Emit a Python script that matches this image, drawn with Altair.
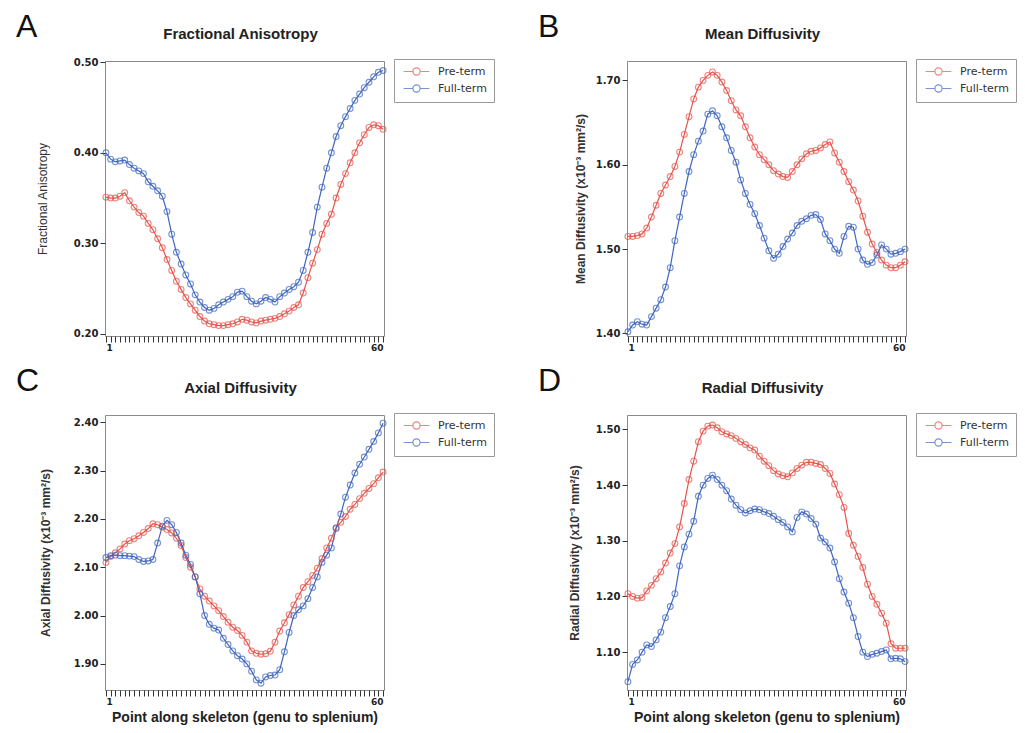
import altair as alt
import pandas as pd

# ---------------- data ----------------
points = list(range(1, 61))
groups = ["Pre-term", "Full-term"]

fa_pre = [0.351, 0.350, 0.350, 0.352, 0.356, 0.347, 0.340, 0.334, 0.330, 0.322,
          0.315, 0.305, 0.295, 0.282, 0.270, 0.258, 0.249, 0.240, 0.233, 0.226,
          0.219, 0.214, 0.211, 0.210, 0.209, 0.209, 0.210, 0.211, 0.213, 0.216,
          0.215, 0.213, 0.212, 0.214, 0.215, 0.216, 0.217, 0.219, 0.222, 0.225,
          0.229, 0.232, 0.245, 0.262, 0.278, 0.293, 0.310, 0.322, 0.332, 0.350,
          0.365, 0.377, 0.389, 0.400, 0.411, 0.420, 0.428, 0.431, 0.430, 0.426]
fa_full = [0.400, 0.393, 0.390, 0.391, 0.392, 0.387, 0.383, 0.380, 0.377, 0.368,
           0.363, 0.358, 0.352, 0.335, 0.310, 0.290, 0.277, 0.265, 0.255, 0.243,
           0.235, 0.229, 0.226, 0.228, 0.232, 0.235, 0.238, 0.241, 0.246, 0.247,
           0.241, 0.236, 0.233, 0.236, 0.240, 0.238, 0.235, 0.241, 0.245, 0.249,
           0.252, 0.257, 0.270, 0.290, 0.312, 0.340, 0.362, 0.383, 0.400, 0.418,
           0.430, 0.440, 0.449, 0.458, 0.465, 0.472, 0.478, 0.484, 0.489, 0.491]

md_pre = [1.515, 1.515, 1.516, 1.518, 1.525, 1.538, 1.552, 1.566, 1.576, 1.586,
          1.598, 1.615, 1.636, 1.657, 1.678, 1.692, 1.700, 1.706, 1.710, 1.706,
          1.698, 1.688, 1.676, 1.665, 1.658, 1.645, 1.632, 1.621, 1.612, 1.606,
          1.600, 1.593, 1.589, 1.586, 1.585, 1.592, 1.600, 1.607, 1.613, 1.616,
          1.617, 1.620, 1.624, 1.627, 1.614, 1.603, 1.592, 1.580, 1.570, 1.557,
          1.539, 1.520, 1.506, 1.496, 1.487, 1.481, 1.478, 1.478, 1.481, 1.485]
md_full = [1.402, 1.410, 1.414, 1.411, 1.410, 1.420, 1.430, 1.440, 1.455, 1.478,
           1.510, 1.538, 1.566, 1.592, 1.612, 1.628, 1.640, 1.660, 1.664, 1.658,
           1.645, 1.632, 1.617, 1.603, 1.582, 1.566, 1.553, 1.542, 1.528, 1.513,
           1.498, 1.489, 1.494, 1.503, 1.512, 1.519, 1.528, 1.533, 1.536, 1.540,
           1.541, 1.535, 1.518, 1.510, 1.500, 1.495, 1.515, 1.527, 1.526, 1.500,
           1.487, 1.482, 1.484, 1.493, 1.505, 1.500, 1.494, 1.495, 1.497, 1.500]

ad_pre = [2.110, 2.122, 2.130, 2.138, 2.148, 2.155, 2.159, 2.165, 2.172, 2.180,
          2.190, 2.188, 2.183, 2.178, 2.171, 2.160, 2.145, 2.120, 2.100, 2.080,
          2.055, 2.040, 2.030, 2.020, 2.010, 1.998, 1.986, 1.976, 1.969, 1.959,
          1.945, 1.927, 1.922, 1.920, 1.921, 1.926, 1.945, 1.968, 1.985, 2.002,
          2.022, 2.040, 2.058, 2.070, 2.083, 2.098, 2.118, 2.140, 2.160, 2.182,
          2.193, 2.205, 2.220, 2.230, 2.242, 2.253, 2.263, 2.273, 2.285, 2.297]
ad_full = [2.120, 2.124, 2.125, 2.124, 2.124, 2.123, 2.122, 2.116, 2.112, 2.113,
           2.116, 2.150, 2.185, 2.197, 2.188, 2.172, 2.150, 2.125, 2.106, 2.080,
           2.045, 2.000, 1.982, 1.974, 1.970, 1.953, 1.940, 1.927, 1.917, 1.910,
           1.900, 1.885, 1.867, 1.860, 1.873, 1.876, 1.877, 1.888, 1.925, 1.965,
           2.000, 2.012, 2.020, 2.035, 2.058, 2.080, 2.110, 2.125, 2.140, 2.180,
           2.210, 2.245, 2.270, 2.295, 2.313, 2.328, 2.344, 2.360, 2.378, 2.398]

rd_pre = [1.205, 1.200, 1.197, 1.198, 1.210, 1.220, 1.232, 1.244, 1.260, 1.278,
          1.295, 1.325, 1.367, 1.410, 1.443, 1.478, 1.497, 1.506, 1.508, 1.503,
          1.496, 1.492, 1.489, 1.484, 1.478, 1.473, 1.467, 1.463, 1.452, 1.443,
          1.435, 1.426, 1.420, 1.417, 1.415, 1.422, 1.430, 1.436, 1.441, 1.441,
          1.439, 1.437, 1.430, 1.421, 1.402, 1.383, 1.360, 1.313, 1.292, 1.272,
          1.252, 1.222, 1.200, 1.186, 1.170, 1.152, 1.115, 1.107, 1.107, 1.107]
rd_full = [1.047, 1.078, 1.086, 1.100, 1.113, 1.110, 1.122, 1.136, 1.162, 1.182,
           1.205, 1.255, 1.289, 1.312, 1.335, 1.380, 1.400, 1.412, 1.418, 1.410,
           1.400, 1.390, 1.375, 1.364, 1.356, 1.350, 1.354, 1.357, 1.356, 1.352,
           1.349, 1.344, 1.338, 1.333, 1.325, 1.316, 1.342, 1.352, 1.348, 1.340,
           1.330, 1.305, 1.298, 1.287, 1.262, 1.232, 1.208, 1.188, 1.162, 1.128,
           1.100, 1.092, 1.096, 1.098, 1.101, 1.104, 1.088, 1.089, 1.088, 1.083]

panel_titles = ["Fractional Anisotropy", "Mean Diffusivity",
                "Axial Diffusivity", "Radial Diffusivity"]
panel_letters = ["A", "B", "C", "D"]
y_titles = ["Fractional Anisotropy",
            "Mean Diffusivity (x10\u207b\u00b3 mm\u00b2/s)",
            "Axial Diffusivity (x10\u207b\u00b3 mm\u00b2/s)",
            "Radial Diffusivity (x10\u207b\u00b3 mm\u00b2/s)"]
y_ticks = [[0.20, 0.30, 0.40, 0.50],
           [1.40, 1.50, 1.60, 1.70],
           [1.90, 2.00, 2.10, 2.20, 2.30, 2.40],
           [1.10, 1.20, 1.30, 1.40, 1.50]]
y_domains = [[0.1975, 0.5015], [1.397, 1.723], [1.846, 2.415], [1.032, 1.526]]
x_title = "Point along skeleton (genu to splenium)"

# ---------------- style ----------------
RED = "#E5534B"
BLUE = "#3F66BE"
W, H = 279, 275
LEGEND_SYMBOL = ("M-4.3,0H-1.2M1.2,0H4.3"
                 "M1.2,0A1.2,1.2,0,1,1,-1.2,0A1.2,1.2,0,1,1,1.2,0")


def panel(i, pre, full):
    df = pd.DataFrame({
        "point": points * 2,
        "value": pre + full,
        "group": [groups[0]] * len(pre) + [groups[1]] * len(full),
    })
    legend = alt.Legend(
        orient="none", legendX=W + 10, legendY=-2, title=None,
        symbolType=LEGEND_SYMBOL, symbolSize=36, symbolStrokeWidth=1.2,
        symbolFillColor="white", symbolOffset=10, labelOffset=16,
        labelFont="DejaVu Sans", labelFontSize=11, labelColor="#333",
        strokeColor="#9a9a9a", fillColor="white", padding=7, rowPadding=4,
    )
    color = alt.Color("group:N", scale=alt.Scale(domain=groups, range=[RED, BLUE]),
                      legend=legend)
    bottom = i >= 2
    x = alt.X(
        "point:Q",
        scale=alt.Scale(domain=[0.8, 60.2], nice=False, zero=False),
        axis=alt.Axis(
            values=points,
            labelExpr="datum.value == 1 || datum.value == 60 ? datum.label : ''",
            labelOverlap=False, tickSize=6, labelFontSize=9, labelPadding=1,
            titleFont="Liberation Sans", titleFontSize=14, titleFontWeight="bold",
            titleColor="#222", titlePadding=4,
        ),
        title=x_title if bottom else None,
    )
    pads = [24, 8, 21, 14]
    y = alt.Y(
        "value:Q",
        scale=alt.Scale(domain=y_domains[i], nice=False, zero=False),
        axis=alt.Axis(
            values=y_ticks[i], format=".2f", tickSize=5, labelPadding=2,
            titleFontSize=12, titleFontWeight="normal" if i == 0 else "bold",
            titlePadding=pads[i],
        ),
        title=y_titles[i],
    )
    base = alt.Chart(df).encode(x=x, y=y, color=color)
    line = base.mark_line(strokeWidth=1.2)
    pts = base.mark_point(shape="circle", filled=False, size=34, strokeWidth=1.1)
    letter = alt.Chart(pd.DataFrame({"t": [panel_letters[i]]})).mark_text(
        align="left", baseline="top", fontSize=32, font="Liberation Sans",
        color="#111",
    ).encode(text="t:N", x=alt.value(-89), y=alt.value(-49))
    heading = alt.Chart(pd.DataFrame({"t": [panel_titles[i]]})).mark_text(
        align="center", baseline="alphabetic", fontSize=15, fontWeight="bold",
        font="Liberation Sans", color="#222",
    ).encode(text="t:N", x=alt.value(W / 2 - 4), y=alt.value(-22))
    return alt.layer(line, pts, letter, heading).properties(width=W, height=H)


panels = [panel(0, fa_pre, fa_full), panel(1, md_pre, md_full),
          panel(2, ad_pre, ad_full), panel(3, rd_pre, rd_full)]

chart = alt.concat(
    *panels, columns=2, spacing={"row": 79, "column": 243}, bounds="flush"
).resolve_scale(color="independent").properties(
    padding={"left": 7, "top": 2, "right": 0, "bottom": 0}
).configure_view(
    stroke="#8a8a8a", strokeWidth=1
).configure_axis(
    domain=False, grid=False, tickColor="#333", labelColor="#222",
    labelFont="DejaVu Sans", labelFontWeight="bold", labelFontSize=10,
    titleFont="Liberation Sans", titleColor="#333",
)

chart.save("out.html", embed_options={"renderer": "svg", "actions": False})
